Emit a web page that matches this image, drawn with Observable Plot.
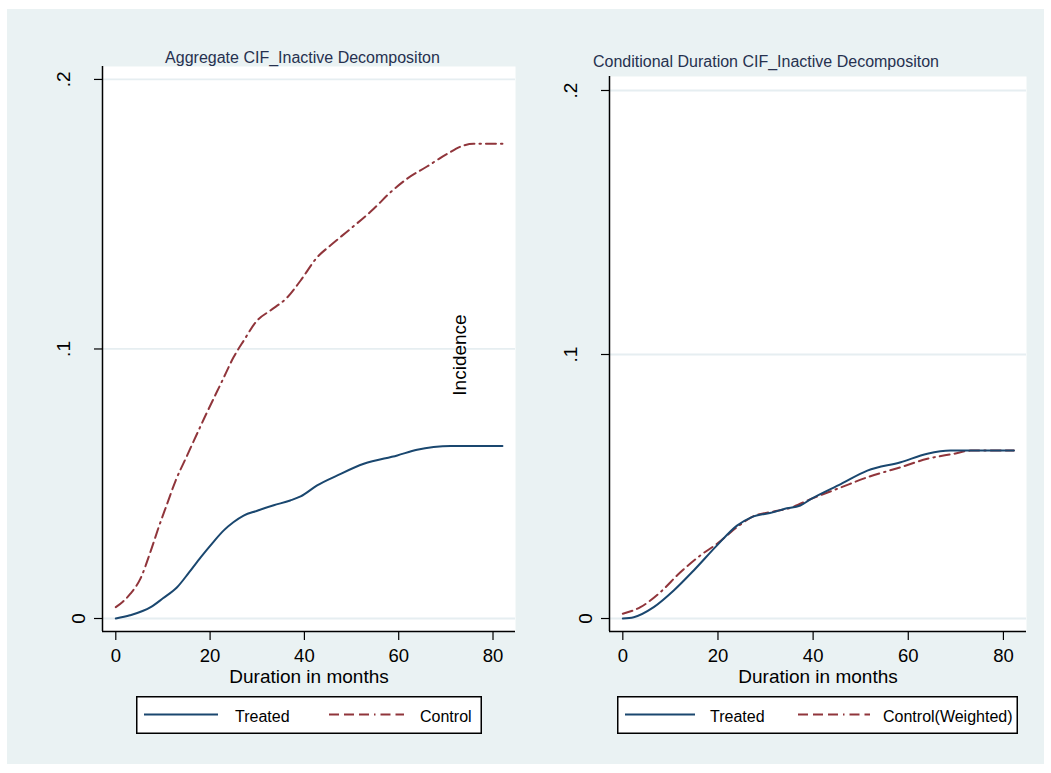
<!DOCTYPE html>
<html>
<head>
<meta charset="utf-8">
<script src="https://cdn.jsdelivr.net/npm/d3@7"></script>
<script src="https://cdn.jsdelivr.net/npm/@observablehq/plot@0.6"></script>
<style>
  html, body { margin: 0; padding: 0; }
  body { width: 1051px; height: 773px; position: relative; overflow: hidden; background: #ffffff;
         font-family: "Liberation Sans", Arial, sans-serif; }
  #bg { position: absolute; left: 7px; top: 9px; width: 1037px; height: 755px; background: #eaf2f3; }
  .abs { position: absolute; }
  .title { font-size: 16px; line-height: 16px; color: #26314f; white-space: nowrap; }
</style>
</head>
<body>
<div id="bg"></div>
<div id="leftPanel" class="abs" style="left:0px;top:0px;width:525px;height:773px"></div>
<div id="rightPanel" class="abs" style="left:525px;top:0px;width:526px;height:773px"></div>
<div class="abs title" style="left:102px;top:49.5px;width:401px;text-align:center">Aggregate CIF_Inactive Decompositon</div>
<div class="abs title" style="left:593px;top:53.5px">Conditional Duration CIF_Inactive Decompositon</div>
<div class="abs" style="left:458.5px;top:355px;font-size:19px;line-height:19px;color:#000;white-space:nowrap;transform:translate(-50%,-50%) rotate(-90deg)">Incidence</div>
<div id="leftLegend" class="abs" style="left:136px;top:696px"></div>
<div id="rightLegend" class="abs" style="left:617px;top:696px"></div>
<script>
// ---------- data ----------
const xTicks = [0, 20, 40, 60, 80];
const yTicks = [0, 0.1, 0.2];
const yTickLabels = ["0", ".1", ".2"];
const xLabel = "Duration in months";

// Left panel: Aggregate CIF
const aggTreatedMonths = [0, 3, 7.4, 10, 13, 15.5, 18, 20.5, 22.9, 25, 27.1, 30, 33.5, 37, 39.2, 42.7, 47, 52.6, 59.7, 63.9, 67.4, 71, 76, 82];
const aggTreatedValues = [0, 0.0012, 0.0042, 0.0075, 0.0116, 0.017, 0.0227, 0.028, 0.0327, 0.0358, 0.0382, 0.0400, 0.042, 0.0438, 0.0453, 0.0494, 0.0531, 0.0574, 0.0605, 0.0626, 0.0636, 0.064, 0.064, 0.064];
const aggControlMonths = [0, 1.5, 3.1, 5.2, 7.4, 9.1, 10.9, 12.7, 15, 18.7, 22.6, 25, 27.1, 30, 32.8, 36.4, 39.2, 42.7, 45.5, 49.8, 54.7, 58.3, 61.8, 66, 70.3, 73.8, 75.9, 82];
const aggControlValues = [0.0042, 0.0062, 0.0092, 0.0147, 0.025, 0.0339, 0.0426, 0.0512, 0.060, 0.0741, 0.0883, 0.097, 0.103, 0.1106, 0.1143, 0.1192, 0.1254, 0.134, 0.1384, 0.1446, 0.152, 0.1582, 0.1632, 0.1677, 0.1724, 0.1755, 0.1761, 0.1761];

// Right panel: Conditional duration CIF
const condTreatedMonths = [0, 2.3, 6.5, 10.7, 14.9, 19.8, 24, 27, 31.7, 33.9, 37.3, 39.6, 45.9, 51.4, 58.4, 64, 68.9, 82.2];
const condTreatedValues = [0, 0.0005, 0.0043, 0.0106, 0.0182, 0.0277, 0.0352, 0.0383, 0.0403, 0.0415, 0.0428, 0.0453, 0.051, 0.056, 0.0592, 0.0624, 0.0636, 0.0636];
const condControlMonths = [0, 3.7, 7.9, 12.1, 16.3, 19.8, 24, 27.5, 31.7, 35, 39.6, 45.9, 51.4, 58.4, 64, 69.6, 73.1, 82.2];
const condControlValues = [0.0018, 0.0043, 0.01, 0.0175, 0.0239, 0.0283, 0.0346, 0.0388, 0.0405, 0.0418, 0.0453, 0.0497, 0.0535, 0.0573, 0.0605, 0.0624, 0.0636, 0.0636];

const leftLegendLabels = ["Treated", "Control"];
const rightLegendLabels = ["Treated", "Control(Weighted)"];

// ---------- styles ----------
const NAVY = "#1a476f";
const MAROON = "#90353b";
const GRID = "#e6eef1";
const DASH = "10,5,10,5,10,5,1.5,5";
const FONT = '"Liberation Sans", Arial, sans-serif';

const rows = (ms, vs) => ms.map((m, i) => ({m, v: vs[i]}));

function panel({width, marginLeft, marginRight, marginTop, xDomain, yDomain, treated, control}) {
  const labelOf = d => yTickLabels[yTicks.indexOf(d)];
  return Plot.plot({
    width, height: 773,
    marginLeft, marginRight, marginTop, marginBottom: 142,
    x: {domain: xDomain},
    y: {domain: yDomain},
    style: `background: transparent; overflow: visible; color: #000; font-family: ${FONT}; font-size: 19px;`,
    marks: [
      Plot.frame({fill: "white", stroke: "none"}),
      Plot.ruleY(yTicks, {stroke: GRID, strokeWidth: 1.8}),
      Plot.axisY({ticks: yTicks, tickSize: 8, tickFormat: () => "", label: null, strokeWidth: 1.2}),
      Plot.text(yTicks.filter(d => d === 0), {y: d => d, text: labelOf, frameAnchor: "left", dx: -23.5, rotate: -90, textAnchor: "middle", lineAnchor: "middle", fontSize: 19, fill: "#000"}),
      Plot.text(yTicks.filter(d => d !== 0), {y: d => d, text: labelOf, frameAnchor: "left", dx: -38.5, rotate: -90, textAnchor: "middle", lineAnchor: "middle", fontSize: 19, fill: "#000"}),
      Plot.axisX({ticks: xTicks, tickSize: 9, tickPadding: 8, fontSize: 18.5, label: null, strokeWidth: 1.2}),
      Plot.text([xLabel], {frameAnchor: "bottom", dy: 45, lineAnchor: "middle", textAnchor: "middle", fontSize: 19, fill: "#000"}),
      Plot.ruleX([xDomain[0]], {stroke: "#000", strokeWidth: 1.5}),
      Plot.ruleY([yDomain[0]], {stroke: "#000", strokeWidth: 1.5}),
      Plot.line(control, {x: "m", y: "v", stroke: MAROON, strokeWidth: 2, strokeDasharray: DASH, curve: "monotone-x"}),
      Plot.line(treated, {x: "m", y: "v", stroke: NAVY, strokeWidth: 2, curve: "monotone-x"})
    ]
  });
}

document.getElementById("leftPanel").append(panel({
  width: 525, marginLeft: 102, marginRight: 10, marginTop: 66,
  xDomain: [-2.82, 84.77], yDomain: [-0.00482, 0.2048],
  treated: rows(aggTreatedMonths, aggTreatedValues),
  control: rows(aggControlMonths, aggControlValues)
}));
document.getElementById("rightPanel").append(panel({
  width: 526, marginLeft: 84, marginRight: 25, marginTop: 76,
  xDomain: [-2.80, 84.85], yDomain: [-0.00492, 0.2053],
  treated: rows(condTreatedMonths, condTreatedValues),
  control: rows(condControlMonths, condControlValues)
}));

// ---------- legends ----------
function legend(el, labels, w, layout) {
  const svg = d3.select(el).append("svg").attr("width", w).attr("height", 38).style("display", "block");
  svg.append("rect").attr("x", 0.75).attr("y", 0.75).attr("width", w - 1.5).attr("height", 36.5)
     .attr("fill", "white").attr("stroke", "#000").attr("stroke-width", 1.5);
  const styles = [{stroke: NAVY, dash: null}, {stroke: MAROON, dash: DASH}];
  labels.forEach((lab, i) => {
    const L = layout[i];
    svg.append("line").attr("x1", L.x1).attr("x2", L.x2).attr("y1", 18.5).attr("y2", 18.5)
       .attr("stroke", styles[i].stroke).attr("stroke-width", 2)
       .attr("stroke-dasharray", styles[i].dash);
    svg.append("text").attr("x", L.tx).attr("y", 26).attr("font-size", 16)
       .attr("font-family", FONT).attr("fill", "#000").text(lab);
  });
}
legend(document.getElementById("leftLegend"), leftLegendLabels, 346,
  [{x1: 8, x2: 82, tx: 99}, {x1: 193, x2: 268, tx: 284}]);
legend(document.getElementById("rightLegend"), rightLegendLabels, 401,
  [{x1: 8, x2: 78, tx: 93}, {x1: 181, x2: 253, tx: 266}]);
</script>
</body>
</html>
